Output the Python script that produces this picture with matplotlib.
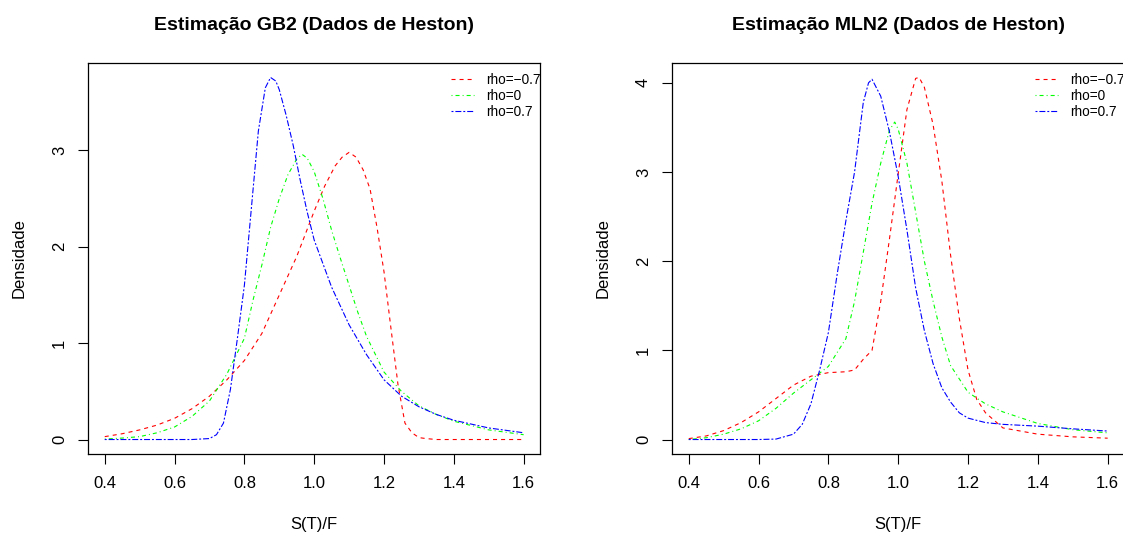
import numpy as np
import matplotlib
matplotlib.use('Agg')
import matplotlib.pyplot as plt

plt.rcParams['font.family'] = ['Liberation Sans', 'DejaVu Sans']
plt.rcParams['lines.scale_dashes'] = False

# Curvas (densidade estimada vs S(T)/F)

# --- Estimacao GB2 ---
gb2_x_neg = [0.40, 0.45, 0.50, 0.55, 0.60, 0.65, 0.70, 0.75, 0.80, 0.85, 0.90, 0.95, 1.00, 1.03, 1.06, 1.08,
             1.10, 1.12, 1.14, 1.16, 1.18, 1.20, 1.22, 1.24, 1.26, 1.28, 1.30, 1.32, 1.35, 1.40, 1.50, 1.60]
gb2_y_neg = [0.03, 0.06, 0.10, 0.15, 0.22, 0.32, 0.45, 0.62, 0.82, 1.10, 1.50, 1.90, 2.37, 2.63, 2.84, 2.93,
             2.98, 2.93, 2.80, 2.60, 2.20, 1.74, 1.15, 0.57, 0.17, 0.07, 0.02, 0.01, 0.0, 0.0, 0.0, 0.0]

gb2_x_zero = [0.40, 0.45, 0.50, 0.55, 0.60, 0.65, 0.70, 0.75, 0.80, 0.825, 0.85, 0.875, 0.90, 0.925, 0.95, 0.965,
              0.98, 1.00, 1.025, 1.05, 1.075, 1.10, 1.125, 1.15, 1.20, 1.25, 1.30, 1.35, 1.40, 1.50, 1.60]
gb2_y_zero = [0.005, 0.015, 0.03, 0.07, 0.13, 0.24, 0.40, 0.68, 1.05, 1.45, 1.81, 2.20, 2.50, 2.75, 2.91, 2.96,
              2.92, 2.78, 2.50, 2.17, 1.88, 1.60, 1.32, 1.07, 0.70, 0.50, 0.35, 0.26, 0.19, 0.10, 0.05]

gb2_x_pos = [0.40, 0.50, 0.60, 0.65, 0.70, 0.72, 0.74, 0.76, 0.78, 0.80, 0.82, 0.84, 0.86, 0.875, 0.89, 0.90,
             0.92, 0.94, 0.96, 0.98, 1.00, 1.05, 1.10, 1.15, 1.20, 1.25, 1.30, 1.35, 1.40, 1.50, 1.60]
gb2_y_pos = [0.0, 0.0, 0.0, 0.0, 0.01, 0.05, 0.17, 0.52, 1.05, 1.60, 2.40, 3.20, 3.65, 3.757, 3.72, 3.63,
             3.36, 3.05, 2.69, 2.36, 2.07, 1.58, 1.19, 0.88, 0.62, 0.45, 0.34, 0.26, 0.20, 0.12, 0.07]

# --- Estimacao MLN2 ---
mln_x_neg = [0.40, 0.45, 0.50, 0.55, 0.60, 0.65, 0.70, 0.75, 0.80, 0.85, 0.875, 0.90, 0.925, 0.95, 0.975, 1.00,
             1.025, 1.05, 1.06, 1.075, 1.10, 1.125, 1.15, 1.175, 1.20, 1.225, 1.25, 1.30, 1.40, 1.50, 1.60]
mln_y_neg = [0.01, 0.04, 0.10, 0.19, 0.31, 0.46, 0.61, 0.71, 0.75, 0.76, 0.78, 0.90, 1.00, 1.55, 2.25, 2.98,
             3.70, 4.05, 4.06, 3.95, 3.53, 2.90, 2.07, 1.36, 0.78, 0.45, 0.30, 0.13, 0.06, 0.03, 0.015]

mln_x_zero = [0.40, 0.45, 0.50, 0.55, 0.60, 0.65, 0.70, 0.75, 0.80, 0.85, 0.875, 0.90, 0.925, 0.95, 0.975, 0.99,
              1.00, 1.025, 1.05, 1.075, 1.10, 1.125, 1.15, 1.20, 1.25, 1.30, 1.40, 1.50, 1.60]
mln_y_zero = [0.0, 0.02, 0.06, 0.12, 0.21, 0.35, 0.52, 0.67, 0.82, 1.13, 1.55, 2.10, 2.65, 3.10, 3.47, 3.56,
              3.48, 3.10, 2.55, 2.00, 1.55, 1.15, 0.83, 0.53, 0.40, 0.31, 0.18, 0.11, 0.075]

mln_x_pos = [0.40, 0.50, 0.60, 0.65, 0.70, 0.725, 0.75, 0.775, 0.80, 0.825, 0.85, 0.875, 0.90, 0.915, 0.925,
             0.95, 0.975, 1.00, 1.025, 1.05, 1.075, 1.10, 1.125, 1.15, 1.175, 1.20, 1.25, 1.30, 1.40, 1.50, 1.60]
mln_y_pos = [0.0, 0.0, 0.0, 0.005, 0.06, 0.17, 0.40, 0.78, 1.20, 1.85, 2.45, 3.00, 3.78, 4.00, 4.04,
             3.85, 3.45, 2.95, 2.35, 1.70, 1.22, 0.85, 0.58, 0.42, 0.30, 0.24, 0.19, 0.17, 0.15, 0.12, 0.095]

legendas = ['rho=\u22120.7', 'rho=0', 'rho=0.7']
cores = ['#FF0000', '#00FF00', '#0000FF']
tracos = [(0, (2.9, 2.9)), (0, (0.7, 2.2, 2.9, 2.2)), (0, (1.4, 1.4, 4.3, 1.4))]

paineis = [
    ('Estimação GB2 (Dados de Heston)', [(gb2_x_neg, gb2_y_neg), (gb2_x_zero, gb2_y_zero), (gb2_x_pos, gb2_y_pos)],
     [0, 1, 2, 3], [88, 540.4]),
    ('Estimação MLN2 (Dados de Heston)', [(mln_x_neg, mln_y_neg), (mln_x_zero, mln_y_zero), (mln_x_pos, mln_y_pos)],
     [0, 1, 2, 3, 4], [672, 1124.4]),
]

W, H = 1123, 533
fig = plt.figure(figsize=(W/100, H/100), dpi=100)

for titulo, curvas, yticks, (x0, x1) in paineis:
    ax = fig.add_axes([x0/W, 1-454/H, (x1-x0)/W, (454-63)/H])
    for (xs, ys), cor, ls, lab in zip(curvas, cores, tracos, legendas):
        ax.plot(xs, ys, color=cor, lw=0.8, linestyle=ls, label=lab)

    # limites no estilo R (4% de folga)
    todos = np.concatenate([np.array(c[1]) for c in curvas])
    ymin, ymax = todos.min(), todos.max()
    dy = (ymax - ymin)*0.04
    ax.set_ylim(ymin-dy, ymax+dy)
    ax.set_xlim(0.4-0.048, 1.6+0.048)

    ax.set_xticks([0.4, 0.6, 0.8, 1.0, 1.2, 1.4, 1.6])
    ax.set_xticklabels(['0.4', '0.6', '0.8', '1.0', '1.2', '1.4', '1.6'])
    ax.set_yticks(yticks)
    ax.tick_params(direction='out', length=7.2, width=0.8, labelsize=12, pad=9)
    ax.tick_params(axis='y', labelrotation=90, pad=8)
    for lbl in ax.get_yticklabels():
        lbl.set_va('center')
    for sp in ax.spines.values():
        sp.set_linewidth(0.9)

    ax.set_title(titulo, fontsize=14, fontweight='bold', pad=23.5)
    ax.set_xlabel('S(T)/F', fontsize=12, labelpad=18)
    ax.set_ylabel('Densidade', fontsize=12, labelpad=18.5)

    ax.legend(loc='upper right', bbox_to_anchor=(1.0, 0.975), frameon=False, fontsize=9.8,
              borderaxespad=0, borderpad=0, handlelength=1.7, handletextpad=0.9, labelspacing=0.15)

fig.savefig('out.png', dpi=100)
